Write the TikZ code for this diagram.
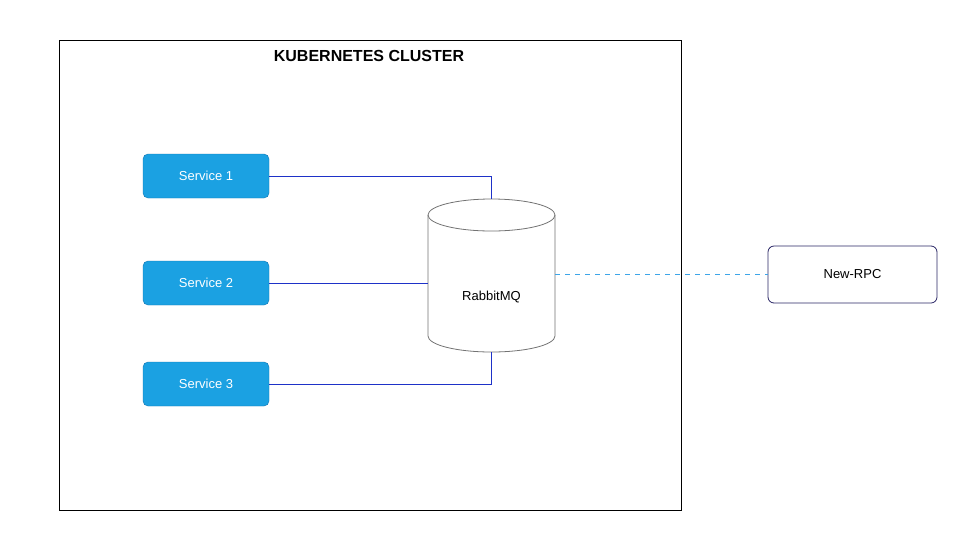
\documentclass[tikz,border=0pt]{standalone}
\usepackage{fontspec}
\setmainfont{Liberation Sans}
\definecolor{svcfill}{RGB}{27,161,226}
\definecolor{svcdraw}{RGB}{16,115,175}
\definecolor{linkc}{RGB}{30,50,200}
\definecolor{dashc}{RGB}{61,165,232}
\definecolor{rpcc}{RGB}{40,36,100}
\begin{document}
\begin{tikzpicture}[x=1pt,y=-1pt,
  txt/.style={font=\fontsize{13}{15}\selectfont},
  svc/.style={txt,draw=svcdraw,fill=svcfill,rounded corners=5pt,minimum width=126pt,minimum height=44pt,text=white},
  link/.style={draw=linkc,line width=0.9pt}]
\useasboundingbox (0,0) rectangle (970,550);
\node[draw,line width=0.8pt,minimum width=622pt,minimum height=470pt,anchor=north west] (cl) at (59,40) {};
\node[font=\bfseries\fontsize{16}{18}\selectfont] (title) at (369,56) {KUBERNETES CLUSTER};
\node[svc] (s1) at (206,176) {Service 1};
\node[svc] (s2) at (206,283) {Service 2};
\node[svc] (s3) at (206,384) {Service 3};
% cylinder
\draw[draw=black!55,fill=white,line width=0.8pt] (428,215) -- (428,336) arc[start angle=180,end angle=0,x radius=63.5,y radius=16] -- (555,215) arc[start angle=0,end angle=-180,x radius=63.5,y radius=16] -- cycle;
\draw[draw=black!55,line width=0.8pt] (428,215) arc[start angle=180,end angle=0,x radius=63.5,y radius=16];
\node[minimum width=127pt,minimum height=153pt,inner sep=0pt] (mq) at (491.5,275.5) {};
\node[txt] (mqt) at (491.5,297) {RabbitMQ};
\node[txt,draw=rpcc,line width=0.8pt,rounded corners=6pt,minimum width=169pt,minimum height=57pt] (rpc) at (852.5,274.5) {New-RPC};
\draw[link] (s1.east) -| (mq.north);
\draw[link] (s2.east) -- (s2.east -| mq.west);
\draw[link] (s3.east) -| (mq.south);
\draw[draw=dashc,line width=0.9pt,dash pattern=on 5pt off 5pt] (mq.east |- rpc.west) -- (rpc.west);
\end{tikzpicture}
\end{document}
